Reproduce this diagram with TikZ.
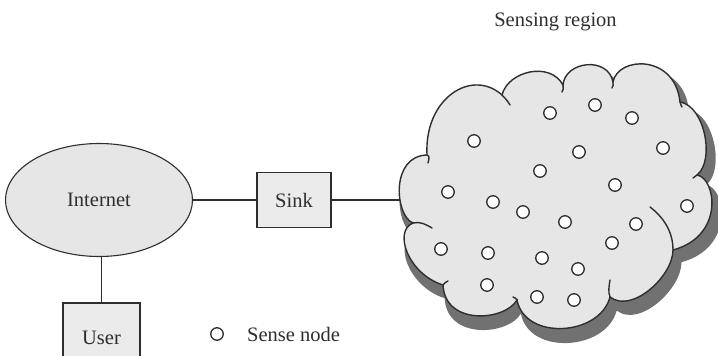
\documentclass[tikz,border=0pt]{standalone}
\usepackage{fontspec}
\setmainfont{Liberation Serif}
\usetikzlibrary{shapes.geometric}

\definecolor{inkgray}{HTML}{2E2E2E}
\definecolor{cloudfill}{HTML}{E6E6E6}
\definecolor{boxfill}{HTML}{EBEBEB}
\definecolor{shadowgray}{HTML}{717171}

% outline of the sensing region, one Bezier bump after another
\newcommand\regionoutline{%
  (413,133) .. controls (395,140) and (390,200) .. (427,201)
  .. controls (424,258) and (472,288) .. (502,261)
  .. controls (508,285) and (550,295) .. (563,271)
  .. controls (565,295) and (608,300) .. (613,274)
  .. controls (618,300) and (675,302) .. (680,254)
  .. controls (705,250) and (715,195) .. (697,181)
  .. controls (716,178) and (725,120) .. (673,106)
  .. controls (673,80) and (632,42) .. (610,59)
  .. controls (600,20) and (525,15) .. (517,56)
  .. controls (505,35) and (445,30) .. (443,71)
  .. controls (408,82) and (393,125) .. (413,133) -- cycle}

\tikzset{
  lbl/.style={font=\fontsize{20.5}{24}\selectfont, text=inkgray},
  link/.style={draw=inkgray, line width=1.1pt},
  boxnode/.style={draw=inkgray, line width=1.1pt, fill=boxfill, lbl},
  sensor/.style={circle, draw=inkgray, line width=1.3pt, fill=white,
    minimum size=12.5pt, inner sep=0pt},
  rim/.style={draw=inkgray, line width=1.4pt, line cap=round},
}

\begin{document}
\begin{tikzpicture}[x=1pt, y=1pt]
\useasboundingbox (0,0) rectangle (718,356);
\clip (0,0) rectangle (718,356);

% shadow of the sensing region
\fill[shadowgray, shift={(560,168)}, scale=1.03, shift={(-555,-178)}]
  \regionoutline;

% network elements
\node[ellipse, draw=inkgray, line width=1.1pt, fill=cloudfill,
  minimum width=187pt, minimum height=113pt, lbl] (internet) at (99,156) {Internet};
\node[boxnode, minimum width=74pt, minimum height=55pt] (sink) at (294,156) {Sink};
\node[boxnode, minimum width=77pt, minimum height=70pt] (user) at (101.5,18) {User};
\coordinate (regionedge) at (412,156);

\draw[link] (internet.east) -- (sink.west);
\draw[link] (sink.east) -- (regionedge);
\draw[link] (user.north) -- (user.north |- internet.south);

% sensing region
\fill[cloudfill] \regionoutline;
\draw[rim] \regionoutline;
% small inward hooks where the bumps meet
\draw[rim] (427,201) .. controls (430,200) and (429,197) .. (428,193);
\draw[rim] (502,261) .. controls (505,258) and (508,254.5) .. (510,251);
\draw[rim] (563,271) .. controls (564,268) and (563,266) .. (562,264);
\draw[rim] (613,274) .. controls (613.5,271) and (613,270) .. (612,268);
\draw[rim] (680,254) .. controls (680.5,252) and (681,250.5) .. (682,249);
\draw[rim] (697,181) .. controls (695.5,180) and (694.5,179) .. (693,178);
\draw[rim] (650,149) .. controls (663,139) and (673,125) .. (673,106);
\draw[rim] (610,59) .. controls (608,64) and (609,70) .. (610,76);
\draw[rim] (517,56) .. controls (516,57.5) and (514.5,58.5) .. (513,59);
\draw[rim] (443,71) .. controls (444,73) and (446,74) .. (448,75);
\draw[rim] (413,133) .. controls (420,135) and (427,131) .. (432,128);

% sense nodes
\foreach \px/\py [count=\k] in {550/243, 595/251, 632/238, 474/215, 579/204,
    663/208, 540/185, 615/171, 448/164, 493/154, 523/144, 565/134, 687/150,
    636/132, 612/113, 441/107, 488/103, 542/98, 578/87, 487/71, 537/59, 574/56}
  \node[sensor] (s\k) at (\px,\py) {};

\node[lbl, anchor=base] (title) at (555.5,329) {Sensing region};

% legend
\node[sensor] (legendmark) at (217,22) {};
\node[lbl, anchor=west, inner sep=0pt] (legendtext) at (247,22) {Sense node};
\end{tikzpicture}
\end{document}
